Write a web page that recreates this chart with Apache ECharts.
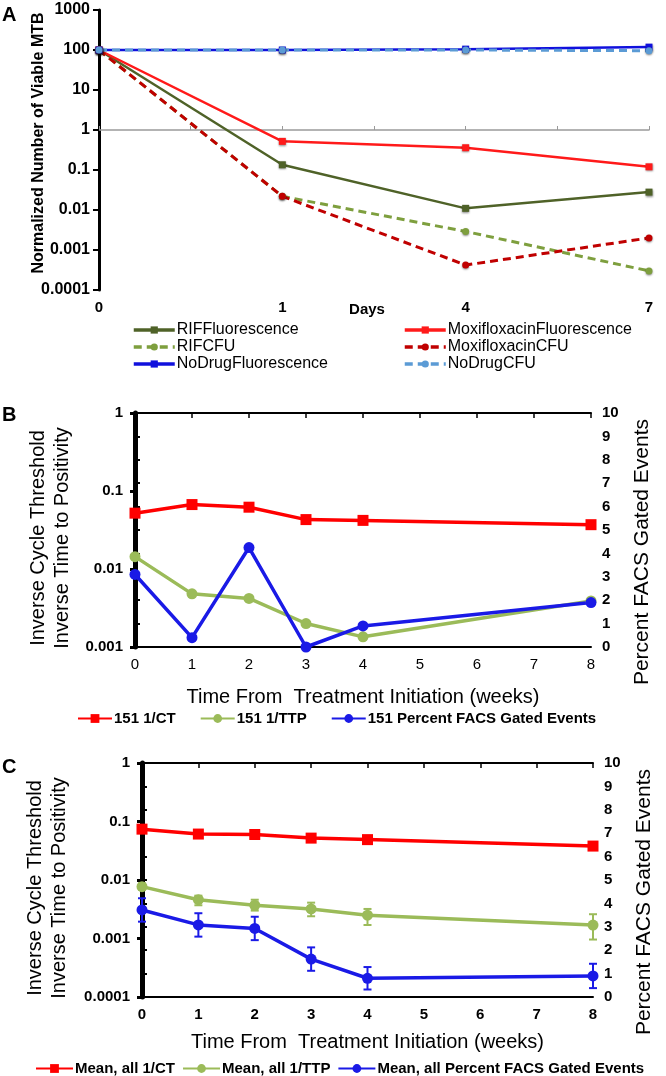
<!DOCTYPE html>
<html>
<head>
<meta charset="utf-8">
<script src="https://cdn.jsdelivr.net/npm/echarts@6/dist/echarts.min.js"></script>
<style>
html, body { margin: 0; padding: 0; background: #fff; }
#main { width: 666px; height: 1076px; }
</style>
</head>
<body>
<div id="main"></div>
<script>
// panel A - normalized viable MTB by day
var daysA = ['0', '1', '4', '7'];
var rifFluor = [100, 0.135, 0.011, 0.028];
var rifCfu = [100, 0.022, 0.0029, 0.0003];
var noDrugFluor = [100, 100, 105, 118];
var moxiFluor = [100, 0.52, 0.36, 0.12];
var moxiCfu = [100, 0.022, 0.00042, 0.002];
var noDrugCfu = [100, 100, 100, 96];

// panel B - patient 151
var weeks = [0, 1, 2, 3, 4, 8];
var ct151 = [0.052, 0.067, 0.062, 0.043, 0.042, 0.037];
var ttp151 = [0.0144, 0.0048, 0.0042, 0.0020, 0.00135, 0.0039];
var facs151 = [3.1, 0.4, 4.25, 0.0, 0.9, 1.9];

// panel C - means over all patients
var ctMean = [0.074, 0.061, 0.060, 0.052, 0.049, 0.038];
var ttpMean = [0.0077, 0.0046, 0.0037, 0.0032, 0.0025, 0.0017];
var ttpLow = [0.0068, 0.0037, 0.0030, 0.0024, 0.0017, 0.00096];
var ttpHigh = [0.0088, 0.0054, 0.0046, 0.0041, 0.0032, 0.0026];
var facsMean = [3.72, 3.08, 2.93, 1.62, 0.8, 0.9];
var facsErr = [0.5, 0.5, 0.5, 0.5, 0.48, 0.52];

var FONT = "'Liberation Sans', Arial, sans-serif";

function pairs(xs, ys) {
  return xs.map(function (x, i) { return [x, ys[i]]; });
}
function logLabel(v) {
  return String(parseFloat(Number(v).toPrecision(4)));
}
function errorBars(name, color, xIdx, yIdx, data) {
  return {
    type: 'custom', name: name, xAxisIndex: xIdx, yAxisIndex: yIdx,
    silent: true, z: 4,
    encode: { x: 0, y: [1, 2] },
    data: data,
    renderItem: function (params, api) {
      var lo = api.coord([api.value(0), api.value(1)]);
      var hi = api.coord([api.value(0), api.value(2)]);
      var st = { stroke: color, lineWidth: 2 };
      return {
        type: 'group', children: [
          { type: 'line', shape: { x1: lo[0], y1: lo[1], x2: hi[0], y2: hi[1] }, style: st },
          { type: 'line', shape: { x1: lo[0] - 4, y1: lo[1], x2: lo[0] + 4, y2: lo[1] }, style: st },
          { type: 'line', shape: { x1: hi[0] - 4, y1: hi[1], x2: hi[0] + 4, y2: hi[1] }, style: st }
        ]
      };
    }
  };
}

var black = '#000';
var boldLabel = { color: black, fontFamily: FONT, fontWeight: 'bold', fontSize: 15 };
var nameBig = { color: black, fontFamily: FONT, fontSize: 20, lineHeight: 24 };

// A line series
function lineA(name, data, color, symbol, dashed) {
  return {
    name: name, type: 'line', xAxisIndex: 0, yAxisIndex: 0, data: data,
    symbol: symbol, symbolSize: 7,
    lineStyle: { color: color, width: dashed ? 3 : 2.5, type: dashed ? [8, 5] : 'solid' },
    itemStyle: { color: color, shadowBlur: 2, shadowColor: 'rgba(0,0,0,0.45)', shadowOffsetY: 1 }
  };
}
function lineBC(name, xIdx, yIdx, data, color, symbol) {
  return {
    name: name, type: 'line', xAxisIndex: xIdx, yAxisIndex: yIdx, data: data,
    symbol: symbol, symbolSize: 11, z: 5,
    lineStyle: { color: color, width: 3.5 },
    itemStyle: { color: color }
  };
}

var cRed = '#FF0000', cGreen = '#9BBB59', cBlue = '#1A1AE6';

var facsErrData = weeks.map(function (w, i) { return [w, facsMean[i] - facsErr[i], facsMean[i] + facsErr[i]]; });
var ttpErrData = weeks.map(function (w, i) { return [w, ttpLow[i], ttpHigh[i]]; });

function weekAxis(grid, bold) {
  return {
    type: 'value', gridIndex: grid, position: 'bottom', min: 0, max: 8, interval: 1,
    axisLine: { show: true, lineStyle: { color: black, width: 2 } },
    axisTick: { show: false },
    splitLine: { show: false },
    axisLabel: { color: black, fontFamily: FONT, fontSize: 15, fontWeight: bold ? 'bold' : 'normal', margin: 10 },
    name: 'Time From  Treatment Initiation (weeks)', nameLocation: 'middle',
    nameGap: grid === 1 ? 38 : 33, nameTextStyle: nameBig
  };
}
function topAxis(grid) {
  return {
    type: 'value', gridIndex: grid, position: 'top', min: 0, max: 8, interval: 1,
    axisLine: { show: true, lineStyle: { color: black, width: 2 } },
    axisTick: { show: true, inside: true, length: 5, lineStyle: { color: black, width: 1.5 } },
    axisLabel: { show: false }, splitLine: { show: false }
  };
}
function logLeft(grid, min, gap) {
  return {
    type: 'log', gridIndex: grid, min: min, max: 1, logBase: 10,
    axisLine: { show: true, lineStyle: { color: black, width: 5 } },
    axisTick: { show: true, length: 5, lineStyle: { color: black, width: 3 } },
    splitLine: { show: false }, minorTick: { show: false },
    axisLabel: Object.assign({ formatter: logLabel, margin: 12 }, boldLabel, { fontSize: 15 }),
    name: 'Inverse Cycle Threshold\nInverse Time to Positivity', nameLocation: 'middle',
    nameGap: gap, nameTextStyle: Object.assign({ padding: [0, 16, 0, 0] }, nameBig)
  };
}
function pctRight(grid) {
  return {
    type: 'value', gridIndex: grid, position: 'right', min: 0, max: 10, interval: 1,
    axisLine: { show: true, lineStyle: { color: black, width: 3 } },
    axisTick: { show: true, length: 5, lineStyle: { color: black, width: 2 } },
    splitLine: { show: false },
    axisLabel: Object.assign({ margin: 11 }, boldLabel),
    name: 'Percent FACS Gated Events', nameLocation: 'middle', nameGap: 39,
    nameTextStyle: Object.assign({}, nameBig, { fontSize: 21, padding: [0, 44, 0, 0] })
  };
}

var myChart = echarts.init(document.getElementById('main'));
myChart.setOption({
  animation: false,
  backgroundColor: '#fff',
  title: [
    { text: 'A', left: 2, top: 5, padding: 0, textStyle: { fontFamily: FONT, fontWeight: 'bold', fontSize: 20, color: black } },
    { text: 'B', left: 2, top: 405, padding: 0, textStyle: { fontFamily: FONT, fontWeight: 'bold', fontSize: 20, color: black } },
    { text: 'C', left: 2, top: 757, padding: 0, textStyle: { fontFamily: FONT, fontWeight: 'bold', fontSize: 20, color: black } }
  ],
  grid: [
    { left: 99, top: 10, right: 17, height: 280 },
    { left: 135, top: 413, right: 75, height: 234, show: false },
    { left: 142, top: 763, right: 73, height: 234, show: false }
  ],
  legend: [
    {
      left: 127, top: 317, orient: 'vertical', itemGap: 1, itemWidth: 41, itemHeight: 9,
      data: ['RIFFluorescence', 'RIFCFU', 'NoDrugFluorescence'],
      lineStyle: { width: 3.5 },
      textStyle: { fontFamily: FONT, fontSize: 16, lineHeight: 16, color: black, padding: [0, 0, 0, -3] }
    },
    {
      left: 398, top: 317, orient: 'vertical', itemGap: 1, itemWidth: 41, itemHeight: 9,
      data: ['MoxifloxacinFluorescence', 'MoxifloxacinCFU', 'NoDrugCFU'],
      lineStyle: { width: 3.5 },
      textStyle: { fontFamily: FONT, fontSize: 16, lineHeight: 16, color: black, padding: [0, 0, 0, -3] }
    },
    {
      left: 72, top: 706, itemGap: 24, itemWidth: 34, itemHeight: 11,
      data: ['151 1/CT', '151 1/TTP', '151 Percent FACS Gated Events'],
      textStyle: { fontFamily: FONT, fontSize: 15, fontWeight: 'bold', color: black, padding: [0, 0, 0, -3] }
    },
    {
      left: 30, top: 1056, itemGap: 7, itemWidth: 37, itemHeight: 11,
      data: ['Mean, all 1/CT', 'Mean, all 1/TTP', 'Mean, all Percent FACS Gated Events'],
      textStyle: { fontFamily: FONT, fontSize: 15, fontWeight: 'bold', color: black, padding: [0, 0, 0, -3] }
    }
  ],
  xAxis: [
    {
      type: 'category', gridIndex: 0, position: 'bottom', data: daysA, boundaryGap: false,
      axisLine: { show: false }, axisTick: { show: false },
      axisLabel: Object.assign({ margin: 10 }, boldLabel),
      name: 'Days', nameLocation: 'middle', nameGap: 12, nameMoveOverlap: false,
      nameTextStyle: { color: black, fontFamily: FONT, fontWeight: 'bold', fontSize: 15, padding: [0, 14, 0, 0] }
    },
    {
      // grey reference line where the y axis equals 1
      type: 'value', gridIndex: 0, position: 'top', min: 0, max: 3, interval: 0.5, offset: -120,
      axisLine: { show: true, lineStyle: { color: '#9a9a9a', width: 1.5 } },
      axisTick: { show: true, inside: false, length: 4, lineStyle: { color: '#9a9a9a', width: 1 } },
      axisLabel: { show: false }, splitLine: { show: false }
    },
    weekAxis(1, false), topAxis(1),
    weekAxis(2, true), topAxis(2)
  ],
  yAxis: [
    {
      type: 'log', gridIndex: 0, min: 0.0001, max: 1000, logBase: 10, splitNumber: 7,
      axisLine: { show: true, lineStyle: { color: black, width: 3 } },
      axisTick: { show: true, length: 6, lineStyle: { color: black, width: 2 } },
      splitLine: { show: false }, minorTick: { show: false },
      axisLabel: Object.assign({ formatter: logLabel, margin: 9 }, boldLabel, { fontSize: 16 }),
      name: 'Normalized Number of Viable MTB', nameLocation: 'middle', nameGap: 52, nameMoveOverlap: false,
      nameTextStyle: { color: black, fontFamily: FONT, fontWeight: 'bold', fontSize: 16, padding: [0, 0, 0, 14] }
    },
    logLeft(1, 0.001, 60), pctRight(1),
    logLeft(2, 0.0001, 71), pctRight(2)
  ],
  series: [
    lineA('RIFFluorescence', rifFluor, '#4F6228', 'rect', false),
    lineA('MoxifloxacinFluorescence', moxiFluor, '#FF1A1A', 'rect', false),
    lineA('RIFCFU', rifCfu, '#7E9F3E', 'circle', true),
    lineA('MoxifloxacinCFU', moxiCfu, '#C00000', 'circle', true),
    lineA('NoDrugFluorescence', noDrugFluor, '#1010DD', 'rect', false),
    lineA('NoDrugCFU', noDrugCfu, '#5B9BD5', 'circle', true),

    lineBC('151 1/CT', 2, 1, pairs(weeks, ct151), cRed, 'rect'),
    lineBC('151 1/TTP', 2, 1, pairs(weeks, ttp151), cGreen, 'circle'),
    lineBC('151 Percent FACS Gated Events', 2, 2, pairs(weeks, facs151), cBlue, 'circle'),

    errorBars('ttpErr', cGreen, 4, 3, ttpErrData),
    errorBars('facsErr', cBlue, 4, 4, facsErrData),
    lineBC('Mean, all 1/CT', 4, 3, pairs(weeks, ctMean), cRed, 'rect'),
    lineBC('Mean, all 1/TTP', 4, 3, pairs(weeks, ttpMean), cGreen, 'circle'),
    lineBC('Mean, all Percent FACS Gated Events', 4, 4, pairs(weeks, facsMean), cBlue, 'circle')
  ]
});
</script>
</body>
</html>
